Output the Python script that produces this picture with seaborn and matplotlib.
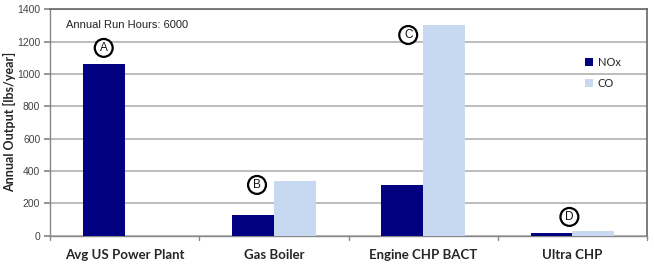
import matplotlib
matplotlib.use("Agg")
import matplotlib.pyplot as plt
import seaborn as sns
import pandas as pd

categories = ["Avg US Power Plant", "Gas Boiler", "Engine CHP BACT", "Ultra CHP"]
nox_values = [1060, 125, 311, 17]
co_values = [0, 336, 1300, 28]
series_names = ["NOx", "CO"]
y_ticks = [0, 200, 400, 600, 800, 1000, 1200, 1400]
circle_labels = ["A", "B", "C", "D"]

df = pd.DataFrame({
    "category": categories * 2,
    "series": [series_names[0]] * 4 + [series_names[1]] * 4,
    "value": nox_values + co_values,
})

sns.set_theme(style="white")
plt.rcParams["font.family"] = ["Liberation Sans", "DejaVu Sans"]

fig = plt.figure(figsize=(6.54, 2.64), dpi=100)
ax = fig.add_axes([50/654, (264-235.5)/264, 597/654, (235.5-9.3)/264])

palette = {"NOx": "#000080", "CO": "#C6D9F1"}
sns.barplot(data=df, x="category", y="value", hue="series", palette=palette,
            width=0.56, saturation=1, ax=ax, legend=True, linewidth=0, zorder=3)

ax.set_ylim(0, 1400)
ax.set_xlim(-0.5, 3.5)
ax.set_yticks(y_ticks)
ax.set_yticklabels([str(t) for t in y_ticks], fontsize=7.5, color="#444444")
ax.yaxis.grid(True, color="#B0B0B0", linewidth=1.2, zorder=0)
ax.set_axisbelow(True)

# category labels and boundary ticks
ax.set_xticks(range(len(categories)))
ax.set_xticklabels(categories, fontsize=9.5, fontweight="bold", family=["Lato", "DejaVu Sans"])
ax.tick_params(axis="x", length=0, pad=10)
ax.tick_params(axis="y", length=4, color="#888888", direction="out", left=True, pad=3)
for b in [-0.5, 0.5, 1.5, 2.5, 3.5]:
    ax.plot([b, b], [0, -0.022], transform=ax.get_xaxis_transform(), color="#888888",
            linewidth=1, clip_on=False)

ax.set_xlabel("")
ax.set_ylabel("Annual Output [lbs/year]", fontsize=9, fontweight="bold",
              family=["Lato", "DejaVu Sans"])
ax.yaxis.set_label_coords(-34/597, 0.5)

for s in ["left", "bottom"]:
    ax.spines[s].set_color("#888888")
    ax.spines[s].set_linewidth(1)
for s in ["top", "right"]:
    ax.spines[s].set_color("#666666")
    ax.spines[s].set_linewidth(1.2)

ax.text(0.027, 0.93, "Annual Run Hours: 6000", transform=ax.transAxes, fontsize=8,
        color="#222222", va="center", ha="left")

circle_pos = [(-0.14, 1161), (0.887, 313), (1.9, 1241), (2.98, 115)]
for lab, (x, y) in zip(circle_labels, circle_pos):
    ax.text(x, y, lab, ha="center", va="center", fontsize=8.5, color="#111111",
            bbox=dict(boxstyle="circle,pad=0.25", fc="white", ec="black", lw=1.6), zorder=5)

leg = ax.legend(loc="upper left", bbox_to_anchor=(0.88, 0.835), frameon=False,
                fontsize=8, handlelength=0.7, handleheight=0.7, handletextpad=0.4,
                labelspacing=0.9, title=None)
for t in leg.get_texts():
    t.set_family(["Lato", "DejaVu Sans"])

fig.savefig("out.png", dpi=100)
